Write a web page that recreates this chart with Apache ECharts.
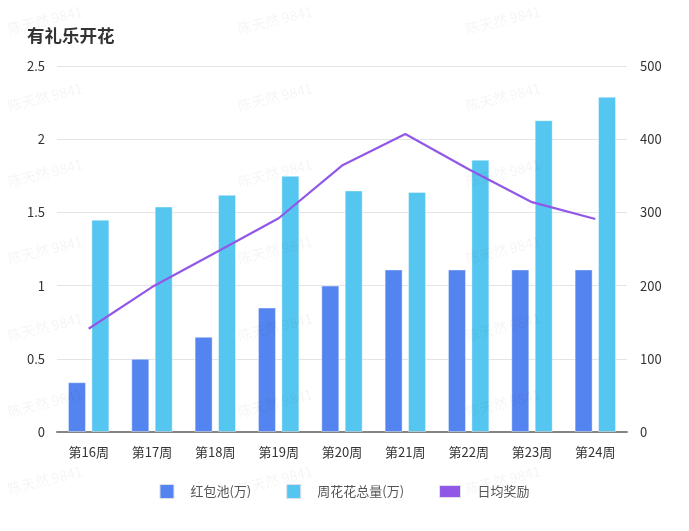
<!DOCTYPE html>
<html>
<head>
<meta charset="utf-8">
<script src="https://cdn.jsdelivr.net/npm/echarts@6/dist/echarts.min.js"></script>
<style>
html,body{margin:0;padding:0;background:#fff;}
#main{width:689px;height:531px;}
</style>
</head>
<body>
<div id="main"></div>
<script>
const titleText = '有礼乐开花';
const categories = ['第16周','第17周','第18周','第19周','第20周','第21周','第22周','第23周','第24周'];
const seriesNames = ['红包池(万)', '周花花总量(万)', '日均奖励'];
const redPool = [0.34, 0.50, 0.65, 0.85, 1.00, 1.11, 1.11, 1.11, 1.11];
const flowerTotal = [1.45, 1.54, 1.62, 1.75, 1.65, 1.64, 1.86, 2.13, 2.29];
const dailyReward = [141, 198, 245, 292, 364, 407, 359, 314, 291];
const watermarkText = '陈天然 9841';

const FONT = "'Noto Sans CJK SC', 'Noto Sans', sans-serif";
const chart = echarts.init(document.getElementById('main'), null, {renderer: 'canvas'});

// faint repeated watermark
const wmCols = [45, 275, 503];
const wmRows = [20, 97, 173, 250, 327, 403, 480];
const graphics = [];
wmCols.forEach(cx => wmRows.forEach(cy => {
  graphics.push({
    type: 'text', x: cx, y: cy, rotation: 0.24, z: 100, silent: true,
    style: {text: watermarkText, fill: 'rgba(0,0,0,0.045)', font: '14px ' + FONT,
            textAlign: 'center', textVerticalAlign: 'middle'}
  });
}));

const option = {
  backgroundColor: '#fff',
  textStyle: {fontFamily: FONT},
  title: {
    text: titleText, left: 22, top: 22,
    textStyle: {fontSize: 17.5, fontWeight: 'bold', color: '#333', fontFamily: FONT}
  },
  legend: {
    left: 'center', top: 479,
    itemWidth: 21, itemHeight: 14, itemGap: 35,
    textStyle: {fontSize: 13, color: '#555', fontFamily: FONT},
    itemStyle: {borderColor: '#dde0ea', borderWidth: 1},
    data: [
      {name: seriesNames[0], icon: 'path://M0,0h14v14h-14z', textStyle: {padding: [0,0,0,8]}},
      {name: seriesNames[1], icon: 'path://M0,0h14v14h-14z', textStyle: {padding: [0,0,0,8]}},
      {name: seriesNames[2], icon: 'path://M0,0h21v12h-21z', textStyle: {padding: [0,0,0,12]}}
    ]
  },
  grid: {left: 57, right: 62, top: 66, bottom: 99},
  xAxis: {
    type: 'category', data: categories,
    axisTick: {show: false},
    axisLine: {lineStyle: {color: '#858585', width: 2}},
    axisLabel: {color: '#333', fontSize: 13, margin: 14}
  },
  yAxis: [
    {
      type: 'value', min: 0, max: 2.5, interval: 0.5,
      axisLine: {show: false}, axisTick: {show: false},
      axisLabel: {color: '#333', fontSize: 13, margin: 12},
      splitLine: {lineStyle: {color: '#e3e3e8'}}
    },
    {
      type: 'value', min: 0, max: 500, interval: 100,
      axisLine: {show: false}, axisTick: {show: false},
      axisLabel: {color: '#333', fontSize: 13, margin: 13},
      splitLine: {show: false}
    }
  ],
  series: [
    {
      name: seriesNames[0], type: 'bar', yAxisIndex: 0, data: redPool,
      barWidth: 18, barGap: '30%',
      itemStyle: {color: '#5484ef', borderColor: 'rgba(255,255,255,0.4)', borderWidth: 1}
    },
    {
      name: seriesNames[1], type: 'bar', yAxisIndex: 0, data: flowerTotal,
      barWidth: 18,
      itemStyle: {color: '#55c6f0', borderColor: 'rgba(255,255,255,0.4)', borderWidth: 1}
    },
    {
      name: seriesNames[2], type: 'line', yAxisIndex: 1, data: dailyReward,
      showSymbol: false, symbol: 'none',
      lineStyle: {color: '#9158e8', width: 2.2},
      itemStyle: {color: '#9158e8'}
    }
  ],
  graphic: graphics,
  animation: false
};
chart.setOption(option);
</script>
</body>
</html>
